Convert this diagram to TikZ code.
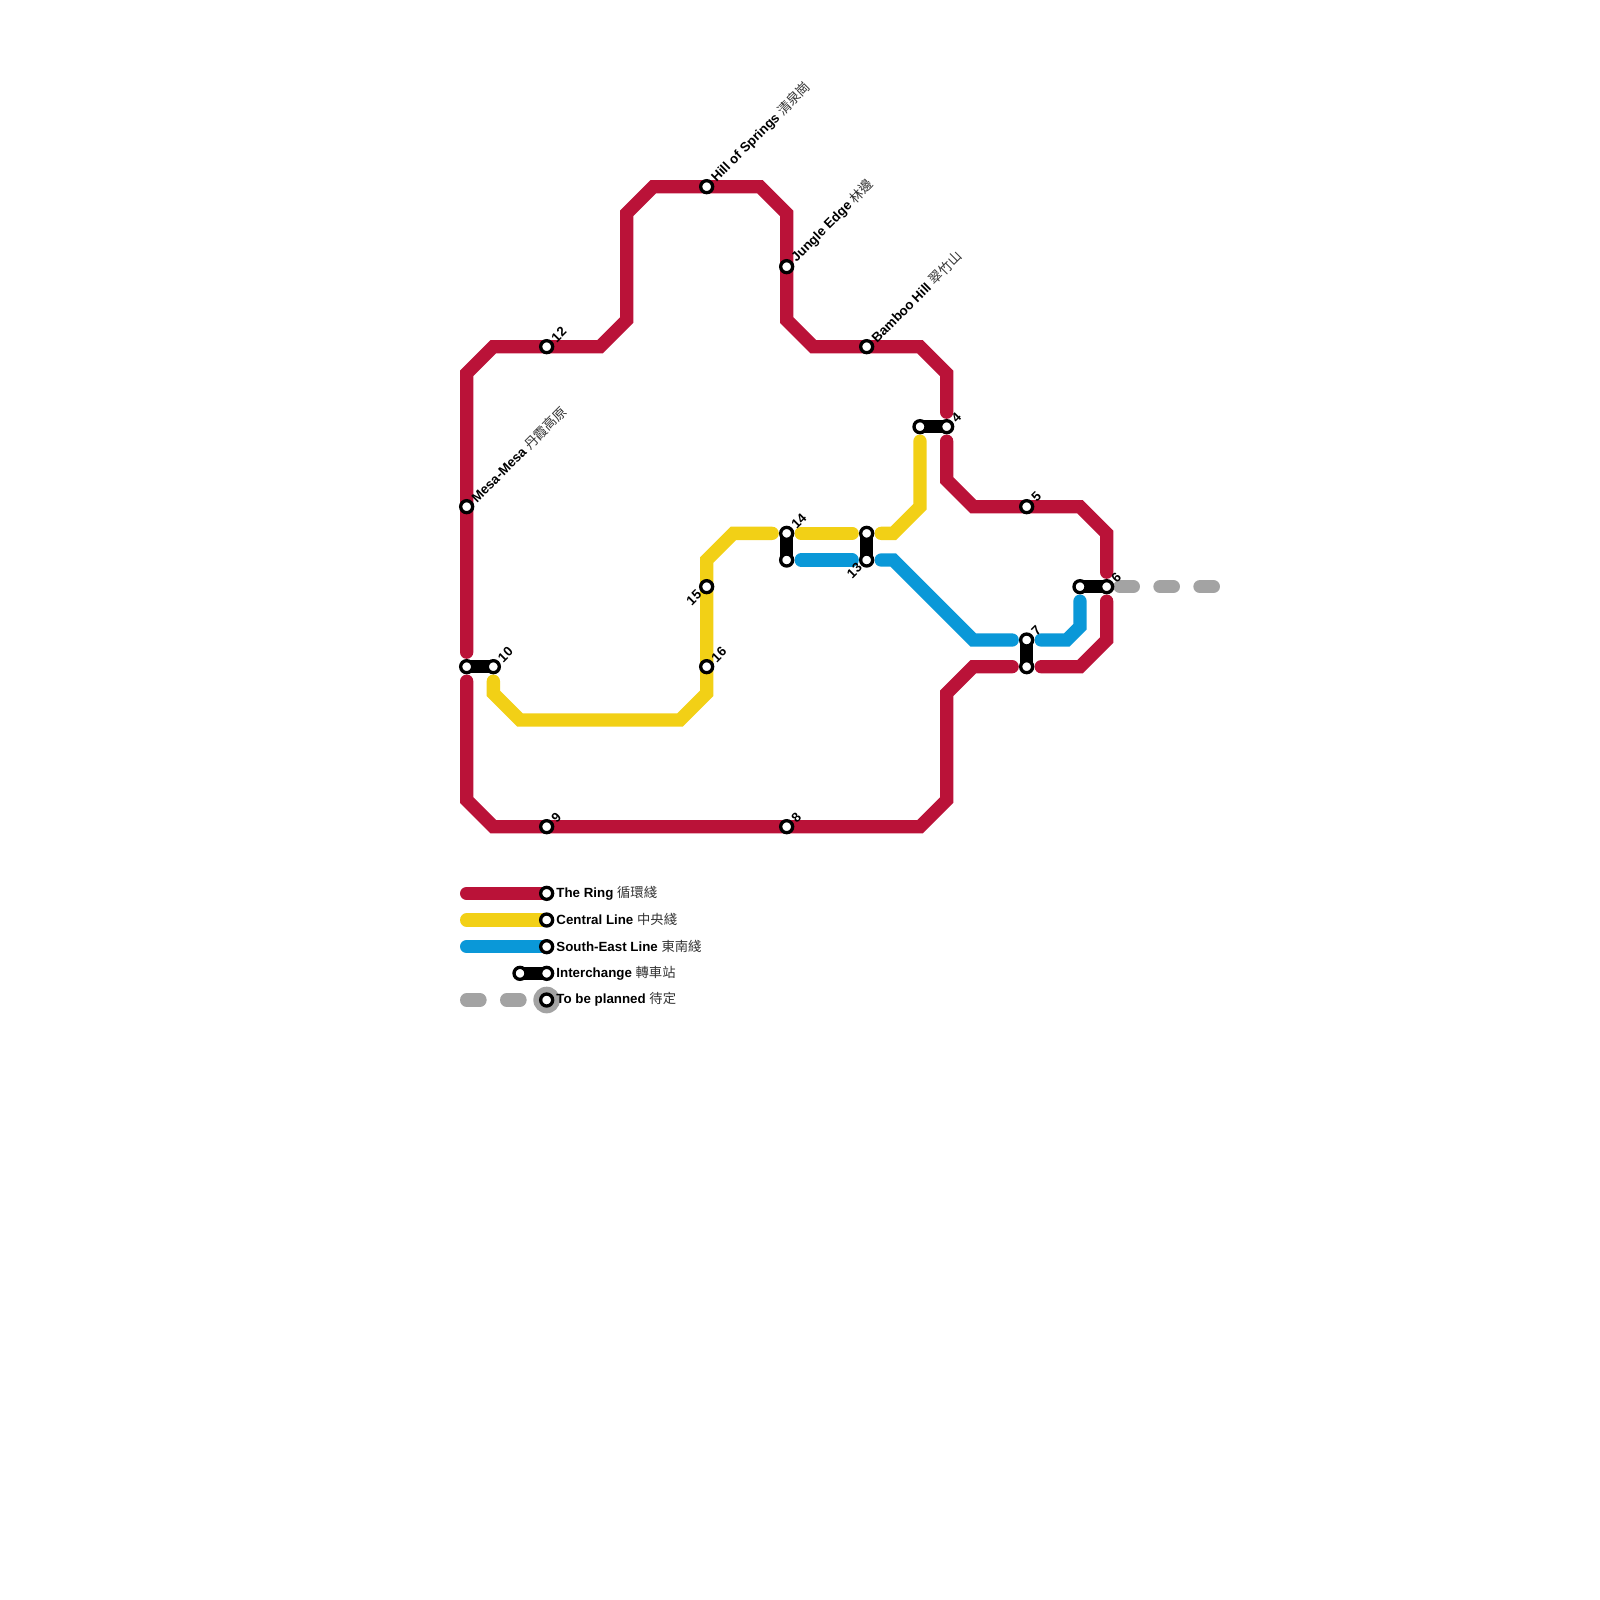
\documentclass[tikz,border=0pt]{standalone}
\usepackage{fontspec}
\setmainfont{Liberation Sans}
\newfontfamily\cjk{Noto Sans CJK TC}
\usetikzlibrary{calc,backgrounds}
\definecolor{ringRed}{HTML}{BA1238}
\definecolor{centralYellow}{HTML}{F2D016}
\definecolor{seBlue}{HTML}{0A98D8}
\definecolor{planGray}{HTML}{A3A3A3}
\newcommand{\stname}[2]{\textbf{#1} {\color{black!80}\cjk #2}}

\begin{document}
\begin{tikzpicture}[x=0.26667cm,y=-0.26667cm,
  font=\fontsize{3.79}{4.5}\selectfont,
  stn/.style={circle, draw=black, fill=white, line width=0.033cm, minimum size=0.12cm, inner sep=0pt},
  lin/.style={line width=0.1333cm, line cap=round, miter limit=4},
  cut/.style={shorten <=0.145cm, shorten >=0.145cm},
  ichg/.style={line width=0.1333cm, black},
  plan/.style={lin, planGray, dash pattern=on 0.1333cm off 0.2667cm},
  rlbl/.style={rotate=45, anchor=west, inner sep=0pt},
  llbl/.style={rotate=45, anchor=east, inner sep=0pt},
  keylbl/.style={anchor=west, inner sep=0pt}]
\useasboundingbox (0,0) rectangle (60,60);
% stations
\node[stn] (hill) at (26.5,7) {};
\node[stn] (jungle) at (29.5,10) {};
\node[stn] (bamboo) at (32.5,13) {};
\node[stn] (s12) at (20.5,13) {};
\node[stn] (mesa) at (17.5,19) {};
\node[stn] (s3) at (34.5,16) {};
\node[stn] (s4) at (35.5,16) {};
\node[stn] (s5) at (38.5,19) {};
\node[stn] (s14) at (29.5,20) {};
\node[stn] (s14b) at (29.5,21) {};
\node[stn] (s13b) at (32.5,20) {};
\node[stn] (s13) at (32.5,21) {};
\node[stn] (s6b) at (40.5,22) {};
\node[stn] (s6) at (41.5,22) {};
\node[stn] (s15) at (26.5,22) {};
\node[stn] (s7) at (38.5,24) {};
\node[stn] (s7b) at (38.5,25) {};
\node[stn] (s16) at (26.5,25) {};
\node[stn] (s10b) at (17.5,25) {};
\node[stn] (s10) at (18.5,25) {};
\node[stn] (s9) at (20.5,31) {};
\node[stn] (s8) at (29.5,31) {};
% key
\node[stn] (kRing) at (20.5,33.5) {};
\node[stn] (kCentral) at (20.5,34.5) {};
\node[stn] (kSE) at (20.5,35.5) {};
\node[stn] (kInt) at (20.5,36.5) {};
\node[stn] (kIntb) at (19.5,36.5) {};
\node[stn] (kPlan) at (20.5,37.5) {};
\coordinate (kRingEnd) at (17.5,33.5);
\coordinate (kCentralEnd) at (17.5,34.5);
\coordinate (kSEEnd) at (17.5,35.5);
\coordinate (kPlanEnd) at (17.5,37.5);
\coordinate (planEnd) at (45.5,22);
\begin{pgfonlayer}{background}
% the ring
\draw[lin, ringRed, cut] (s10b.center) -- (17.5,14) -- (18.5,13) -- (22.5,13) -- (23.5,12) -- (23.5,8) -- (24.5,7) -- (28.5,7) -- (29.5,8) -- (29.5,12) -- (30.5,13) -- (34.5,13) -- (35.5,14) -- (s4.center);
\draw[lin, ringRed, cut] (s4.center) -- (35.5,18) -- (36.5,19) -- (40.5,19) -- (41.5,20) -- (s6.center);
\draw[lin, ringRed, cut] (s6.center) -- (41.5,24) -- (40.5,25) -- (s7b.center);
\draw[lin, ringRed, cut] (s7b.center) -- (36.5,25) -- (35.5,26) -- (35.5,30) -- (34.5,31) -- (18.5,31) -- (17.5,30) -- (s10b.center);
% central line
\draw[lin, centralYellow, cut] (s10.center) -- (18.5,26) -- (19.5,27) -- (25.5,27) -- (26.5,26) -- (26.5,21) -- (27.5,20) -- (s14.center);
\draw[lin, centralYellow, cut] (s14.center) -- (s13b.center);
\draw[lin, centralYellow, cut] (s13b.center) -- (33.5,20) -- (34.5,19) -- (s3.center);
% south-east line
\draw[lin, seBlue, cut] (s14b.center) -- (s13.center);
\draw[lin, seBlue, cut] (s13.center) -- (33.5,21) -- (36.5,24) -- (s7.center);
\draw[lin, seBlue, cut] (s7.center) -- (40,24) -- (40.5,23.5) -- (s6b.center);
% planned
\draw[plan, shorten <=0.1333cm] (s6.center) -- (planEnd);
% interchanges
\draw[ichg] (s3.center) -- (s4.center);
\draw[ichg] (s14.center) -- (s14b.center);
\draw[ichg] (s13b.center) -- (s13.center);
\draw[ichg] (s6b.center) -- (s6.center);
\draw[ichg] (s7.center) -- (s7b.center);
\draw[ichg] (s10b.center) -- (s10.center);
% key lines
\draw[lin, ringRed] (kRingEnd) -- (kRing.center);
\draw[lin, centralYellow] (kCentralEnd) -- (kCentral.center);
\draw[lin, seBlue] (kSEEnd) -- (kSE.center);
\draw[ichg] (kIntb.center) -- (kInt.center);
\draw[plan] (kPlanEnd) -- (kPlan.center);
\fill[planGray] (kPlan) circle (0.1333cm);
\end{pgfonlayer}
% names
\node[rlbl] (tHill) at ($(hill)+(0.24,-0.24)$) {\stname{Hill of Springs}{清泉崗}};
\node[rlbl] (tJungle) at ($(jungle)+(0.24,-0.24)$) {\stname{Jungle Edge}{林邊}};
\node[rlbl] (tBamboo) at ($(bamboo)+(0.24,-0.24)$) {\stname{Bamboo Hill}{翠竹山}};
\node[rlbl] (tMesa) at ($(mesa)+(0.24,-0.24)$) {\stname{Mesa-Mesa}{丹霞高原}};
\foreach \st/\txt in {s12/12,s4/4,s5/5,s14/14,s6/6,s7/7,s16/16,s10/10,s9/9,s8/8}
  \node[rlbl] (t\st) at ($(\st)+(0.24,-0.24)$) {\textbf{\txt}};
\node[llbl] (ts15) at ($(s15)+(-0.26,0.2)$) {\textbf{15}};
\node[llbl] (ts13) at ($(s13)+(-0.25,0.18)$) {\textbf{13}};
% key text
\node[keylbl] (tkRing) at ($(kRing)+(0.34,-0.02)$) {\stname{The Ring}{循環綫}};
\node[keylbl] (tkCentral) at ($(kCentral)+(0.34,-0.02)$) {\stname{Central Line}{中央綫}};
\node[keylbl] (tkSE) at ($(kSE)+(0.34,-0.02)$) {\stname{South-East Line}{東南綫}};
\node[keylbl] (tkInt) at ($(kInt)+(0.34,-0.02)$) {\stname{Interchange}{轉車站}};
\node[keylbl] (tkPlan) at ($(kPlan)+(0.34,-0.02)$) {\stname{To be planned}{待定}};
\end{tikzpicture}
\end{document}
